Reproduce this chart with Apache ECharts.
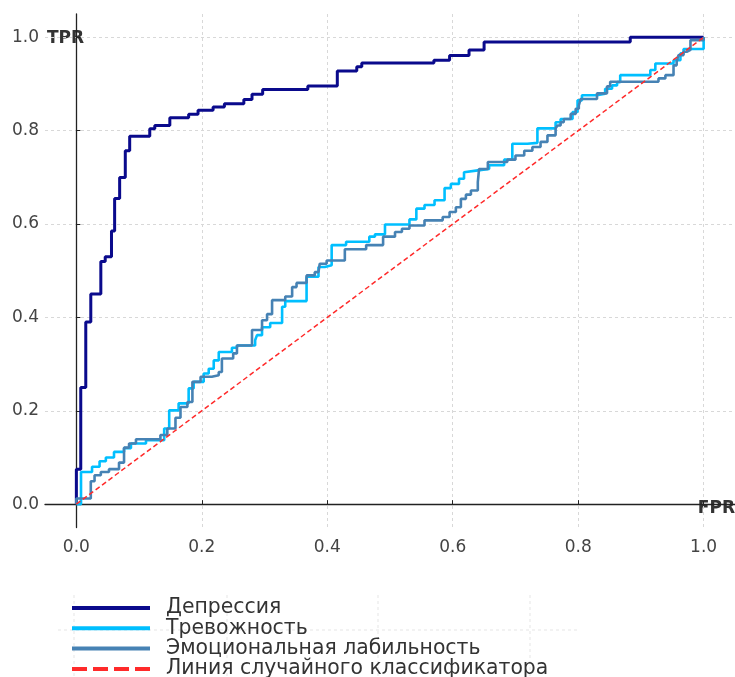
<!DOCTYPE html>
<html><head><meta charset="utf-8">
<script src="https://cdn.jsdelivr.net/npm/echarts@6/dist/echarts.min.js"></script>
<style>html,body{margin:0;padding:0;background:#fff}#c{width:735px;height:677px}</style>
</head><body><div id="c"></div>
<script>
const seriesNames = ['Депрессия', 'Тревожность', 'Эмоциональная лабильность', 'Линия случайного классификатора'];
const tickValues = [0, 0.2, 0.4, 0.6, 0.8, 1.0];
const xAxisTitle = 'FPR';
const yAxisTitle = 'TPR';

// [FPR at which TPR jumps, new TPR]
const depression = [[0,0],[0,0.075],[0.007,0.25],[0.015,0.39],[0.023,0.45],[0.039,0.52],[0.046,0.53],[0.056,0.585],[0.061,0.655],[0.069,0.70],[0.078,0.757],[0.085,0.788],[0.117,0.804],[0.125,0.811],[0.149,0.828],[0.179,0.835],[0.194,0.844],[0.218,0.851],[0.236,0.858],[0.267,0.867],[0.280,0.878],[0.297,0.888],[0.369,0.896],[0.416,0.928],[0.447,0.937],[0.455,0.945],[0.570,0.951],[0.595,0.961],[0.626,0.973],[0.650,0.99],[0.883,1.0],[1.0,1.0]];
const anxiety = [[0,0],[0.0074,0.069],[0.025,0.08],[0.037,0.092],[0.047,0.1],[0.06,0.112],[0.076,0.12],[0.087,0.13],[0.111,0.137],[0.14,0.162],[0.148,0.201],[0.163,0.216],[0.179,0.248],[0.187,0.262],[0.203,0.28],[0.211,0.29],[0.219,0.308],[0.227,0.326],[0.248,0.335],[0.256,0.34],[0.285,0.351],[0.288,0.362],[0.296,0.379],[0.309,0.388],[0.328,0.423],[0.333,0.435],[0.367,0.487],[0.386,0.508],[0.396,0.512],[0.407,0.555],[0.43,0.562],[0.467,0.573],[0.476,0.578],[0.492,0.599],[0.531,0.61],[0.542,0.633],[0.555,0.641],[0.571,0.651],[0.587,0.677],[0.597,0.686],[0.61,0.697],[0.618,0.711],[0.621,0.715],[0.64,0.718],[0.658,0.726],[0.682,0.738],[0.695,0.772],[0.719,0.774],[0.735,0.805],[0.764,0.818],[0.772,0.825],[0.791,0.84],[0.799,0.865],[0.806,0.876],[0.83,0.879],[0.843,0.89],[0.854,0.897],[0.862,0.904],[0.867,0.919],[0.915,0.93],[0.923,0.944],[0.952,0.951],[0.963,0.966],[0.968,0.975],[1.0,1.0]];
const emotional = [[0,0],[0,0.012],[0.023,0.049],[0.029,0.062],[0.039,0.069],[0.052,0.075],[0.068,0.089],[0.076,0.121],[0.084,0.13],[0.095,0.139],[0.134,0.148],[0.145,0.162],[0.158,0.185],[0.166,0.208],[0.177,0.219],[0.185,0.262],[0.198,0.273],[0.216,0.276],[0.227,0.283],[0.232,0.312],[0.25,0.323],[0.256,0.34],[0.28,0.373],[0.296,0.394],[0.304,0.407],[0.312,0.437],[0.333,0.445],[0.344,0.465],[0.351,0.474],[0.367,0.49],[0.38,0.497],[0.386,0.501],[0.388,0.515],[0.399,0.522],[0.428,0.546],[0.462,0.555],[0.489,0.573],[0.508,0.583],[0.519,0.59],[0.531,0.597],[0.555,0.608],[0.584,0.615],[0.595,0.626],[0.605,0.636],[0.613,0.654],[0.621,0.663],[0.629,0.672],[0.64,0.69],[0.642,0.718],[0.656,0.733],[0.687,0.738],[0.7,0.747],[0.714,0.757],[0.727,0.765],[0.74,0.776],[0.751,0.79],[0.764,0.805],[0.767,0.811],[0.772,0.818],[0.777,0.825],[0.788,0.836],[0.796,0.847],[0.801,0.854],[0.804,0.868],[0.83,0.88],[0.846,0.895],[0.851,0.905],[0.928,0.912],[0.939,0.919],[0.952,0.94],[0.957,0.948],[0.96,0.962],[0.968,0.969],[0.973,0.973],[0.979,0.994],[1.0,1.0]];
const randomLine = [[0,0],[1,1]];

const colors = ['#0a0a8c', '#00bfff', '#4682b4', '#ff2a2a'];

const chart = echarts.init(document.getElementById('c'), null, {renderer: 'canvas'});
const axisCommon = {
  type: 'value', min: -0.05, max: 1.05,
  axisLine: {show: true, lineStyle: {color: '#222', width: 1.3}},
  axisTick: {show: true, inside: true, length: 4, customValues: tickValues, lineStyle: {color: '#222'}},
  axisLabel: {customValues: tickValues, formatter: v => v.toFixed(1), fontSize: 17, color: '#444', fontFamily: 'DejaVu Sans'},
  splitLine: {show: true, lineStyle: {color: '#d8d8d8', type: [3, 3], width: 1}}
};
const lineSeries = (name, data, color, width) => ({
  name, type: 'line', data, step: 'end', symbol: 'none', clip: false,
  lineStyle: {color, width}, itemStyle: {color}, animation: false
});
const solidIcon = 'path://M0,0H78V4H0Z';
const dashIcon = 'path://M0,0H15V4H0Z M21,0H36V4H21Z M42,0H57V4H42Z M63,0H78V4H63Z';
const option = {
  animation: false,
  grid: {left: 45, top: 14, width: 693, height: 513.5, containLabel: false},
  xAxis: Object.assign({}, axisCommon, {axisLabel: Object.assign({}, axisCommon.axisLabel, {margin: 12})}),
  yAxis: Object.assign({}, axisCommon, {axisLabel: Object.assign({}, axisCommon.axisLabel, {margin: 6})}),
  legend: {
    orient: 'vertical', left: 72, top: 598, padding: 0, height: 200, itemWidth: 78, itemHeight: 14, itemGap: 0.3,
    textStyle: {fontSize: 20.4, color: '#333', fontFamily: 'DejaVu Sans', lineHeight: 20, padding: [0, 0, 0, 11]},
    data: [
      {name: seriesNames[0], icon: solidIcon},
      {name: seriesNames[1], icon: solidIcon},
      {name: seriesNames[2], icon: solidIcon},
      {name: seriesNames[3], icon: dashIcon}
    ]
  },
  graphic: [
    {type: 'line', silent: true, z: -1, shape: {x1: 74, y1: 595, x2: 74, y2: 677}, style: {stroke: '#e6e6e6', lineDash: [3, 3]}},
    {type: 'line', silent: true, z: -1, shape: {x1: 227, y1: 595, x2: 227, y2: 677}, style: {stroke: '#e6e6e6', lineDash: [3, 3]}},
    {type: 'line', silent: true, z: -1, shape: {x1: 378, y1: 595, x2: 378, y2: 677}, style: {stroke: '#e6e6e6', lineDash: [3, 3]}},
    {type: 'line', silent: true, z: -1, shape: {x1: 530, y1: 595, x2: 530, y2: 677}, style: {stroke: '#e6e6e6', lineDash: [3, 3]}},
    {type: 'line', silent: true, z: -1, shape: {x1: 58, y1: 630, x2: 577, y2: 630}, style: {stroke: '#e6e6e6', lineDash: [3, 3]}},
    {type: 'text', left: 47, top: 30, style: {text: yAxisTitle, font: 'bold 17px "DejaVu Sans"', fill: '#333'}},
    {type: 'text', right: 0, top: 500, style: {text: xAxisTitle, font: 'bold 17px "DejaVu Sans"', fill: '#333'}}
  ],
  series: [
    lineSeries(seriesNames[0], depression, colors[0], 3),
    lineSeries(seriesNames[1], anxiety, colors[1], 2.6),
    lineSeries(seriesNames[2], emotional, colors[2], 2.6),
    Object.assign(lineSeries(seriesNames[3], randomLine, colors[3], 1.5), {step: false, lineStyle: {color: colors[3], width: 1.5, type: [5, 3]}})
  ]
};
chart.setOption(option);
</script>
</body></html>
